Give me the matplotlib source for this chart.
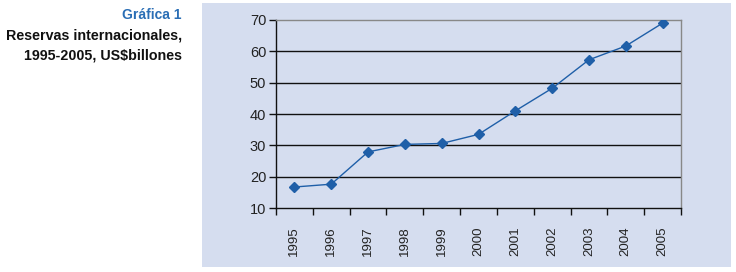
import matplotlib
matplotlib.use("Agg")
import matplotlib.pyplot as plt
from matplotlib.patches import Rectangle
#
# Datos
years = ['1995', '1996', '1997', '1998', '1999', '2000', '2001', '2002', '2003', '2004', '2005']
reservas = [16.7, 17.6, 27.9, 30.3, 30.6, 33.5, 41.0, 48.2, 57.3, 61.7, 69.0]
y_ticks = [10, 20, 30, 40, 50, 60, 70]
#
plt.rcParams['font.family'] = ['Liberation Sans', 'DejaVu Sans']
panel_color = '#D5DDEF'
line_color = '#1F5FA8'
#
fig = plt.figure(figsize=(7.36, 2.72), dpi=100)
panel = Rectangle((202/736, 5/272), 529/736, 264/272, transform=fig.transFigure,
                  facecolor=panel_color, edgecolor='none', zorder=-10)
fig.add_artist(panel)
#
# Titulo a la izquierda
fig.text(182/736, 1 - 15/272, 'Gráfica 1', ha='right', va='center', fontsize=10,
         fontweight='bold', color='#2A6EB5')
fig.text(182/736, 1 - 35/272, 'Reservas internacionales,', ha='right', va='center',
         fontsize=10.3, fontweight='bold', color='#111111')
fig.text(182/736, 1 - 55/272, '1995-2005, US$billones', ha='right', va='center',
         fontsize=10.3, fontweight='bold', color='#111111')
#
ax = fig.add_axes([276/736, 1 - 208/272, 405/736, 188/272])
ax.set_facecolor('none')
x = range(len(years))
ax.plot(x, reservas, color=line_color, lw=1.0, marker='D', ms=5, mfc=line_color, mec=line_color, zorder=3)
#
ax.set_xlim(-0.5, len(years) - 0.5)
ax.set_ylim(10, 70)
ax.set_yticks(y_ticks)
for t in y_ticks[1:-1]:
    ax.axhline(t, color='#111111', lw=1.0, zorder=1)
#
# ticks entre categorias, etiquetas centradas
ax.set_xticks([i + 0.5 for i in range(-1, len(years))], minor=False)
ax.set_xticklabels([''] * (len(years) + 1))
ax.set_xticks(list(x), minor=True)
ax.set_xticklabels(years, minor=True, rotation=90)
ax.tick_params(axis='x', which='minor', length=0, pad=13, labelsize=9.5, labelcolor='#222222')
ax.tick_params(axis='x', which='major', length=5, direction='out', color='#111111', width=1)
ax.tick_params(axis='y', length=5, direction='out', color='#111111', width=1, labelsize=10.5,
               labelcolor='#222222', pad=2)
#
ax.spines['left'].set_color('#111111')
ax.spines['bottom'].set_color('#111111')
ax.spines['top'].set_color('#888888')
ax.spines['right'].set_color('#888888')
for s in ax.spines.values():
    s.set_linewidth(1.0)
#
fig.savefig('out.png', dpi=100)
